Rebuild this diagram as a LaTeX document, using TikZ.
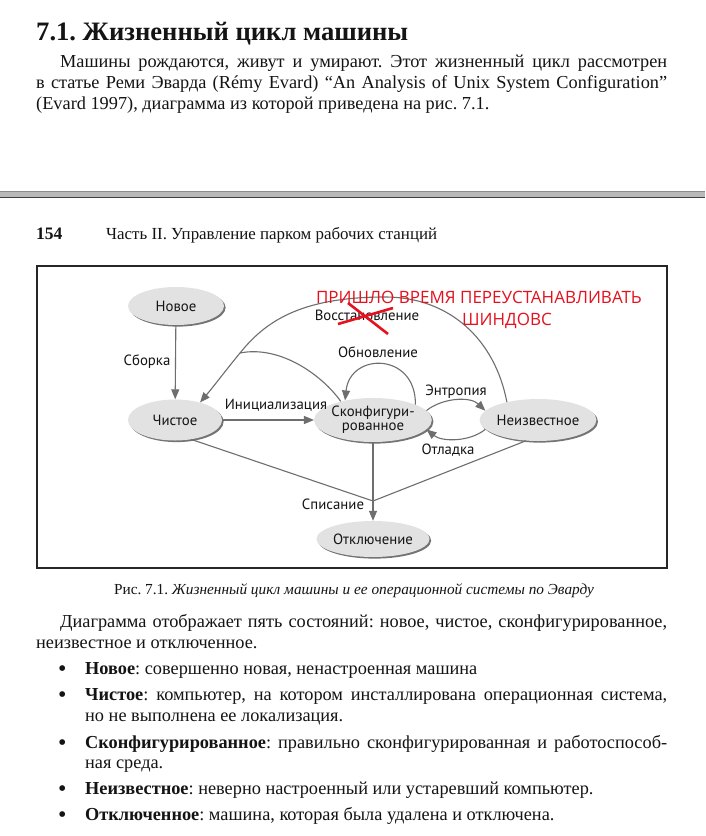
\documentclass[tikz,border=0pt]{standalone}
\usepackage{fontspec}
\setmainfont{Liberation Serif}
\newfontfamily\dsans{PT Sans}
\newfontfamily\rsans{Open Sans}
\usetikzlibrary{shapes.geometric,arrows.meta,shadows}
\definecolor{edge}{HTML}{6E6E6E}
\definecolor{nodefill}{HTML}{E2E2E2}
\definecolor{ink}{HTML}{141414}
\definecolor{redink}{HTML}{E3121E}
\begin{document}
\frenchspacing
\begin{tikzpicture}[x=1pt,y=-1pt,
  state/.style={ellipse, fill=nodefill, draw=none, inner sep=0pt, font=\dsans\fontsize{14.8}{14}\selectfont, text=ink,
    drop shadow={shadow xshift=1.6pt, shadow yshift=-1.6pt, fill=black!55, opacity=1}},
  arr/.style={draw=edge, line width=1.1pt, -{Triangle[length=10pt,width=8pt]}},
  ln/.style={draw=edge, line width=1.1pt},
  lbl/.style={font=\dsans\fontsize{14.8}{14}\selectfont, text=ink, inner sep=0pt},
  redtxt/.style={font=\rsans\fontsize{17}{18}\selectfont, text=redink, inner sep=0pt},
  body/.style={anchor=base west, inner sep=0pt, font=\fontsize{18.3}{20}\selectfont, text=ink},
  dot/.style={anchor=base west, inner sep=0pt, font=\fontsize{24}{20}\selectfont, text=ink},
]
\useasboundingbox (0,0) rectangle (705,836);
\fill[white] (0,0) rectangle (705,836);

% heading and first paragraph
\node[anchor=base west, inner sep=0pt, font=\bfseries\fontsize{26.6}{30}\selectfont, text=ink] (title) at (36,40) {7.1. Жизненный цикл машины};
\node[body] (p1) at (60,67) {\makebox[607pt][s]{Машины рождаются, живут и умирают. Этот жизненный цикл рассмотрен}};
\node[body] (p2) at (36,88) {\makebox[631pt][s]{в статье Реми Эварда (Rémy Evard) “An Analysis of Unix System Configuration”}};
\node[body] (p3) at (36,109) {(Evard 1997), диаграмма из которой приведена на рис.~7.1.};

% page break bar
\fill[gray!55] (0,191) rectangle (705,197.5);
\draw[black!45, line width=0.6pt] (0,191) -- (705,191);
\draw[black!75, line width=1.3pt] (0,197.5) -- (705,197.5);

% running head
\node[anchor=base west, inner sep=0pt, font=\bfseries\fontsize{17.5}{17}\selectfont, text=ink] (pg) at (36,239) {154};
\node[anchor=base west, inner sep=0pt, font=\fontsize{16.9}{17}\selectfont, text=ink] (hd) at (106,239) {Часть II. Управление парком рабочих станций};

% figure frame
\draw[line width=2pt, black!85] (36.5,266) rectangle (667,568);

% states
\node[state, minimum width=96pt, minimum height=38pt] (new) at (176,306) {Новое};
\node[state, minimum width=94pt, minimum height=41pt] (clean) at (175,420) {Чистое};
\node[state, minimum width=98pt, minimum height=44pt, align=center] (conf) at (373,420) {Сконфигури-\\рованное};
\node[state, minimum width=104pt, minimum height=42pt] (unk) at (538,420) {Неизвестное};
\node[state, minimum width=92pt, minimum height=36pt] (off) at (373,539) {Отключение};

\coordinate (apex) at (385,297);
\coordinate (jn) at (240,353);
\coordinate (mg) at (373,501);

% transitions
\draw[arr] (new) -- (clean);
\draw[arr] (clean) -- (conf);
\draw[arr] (unk.150) .. controls (495,340) and (450,297) .. (apex)
  .. controls (300,297) and (265,322) .. (jn)
  .. controls (226,370) and (214,386) .. (clean.35);
\draw[ln] (jn) .. controls (280,345) and (322,375) .. (conf.150);
\draw[arr] (conf.20) .. controls (416,352) and (350,352) .. (conf.145);
\draw[arr] (conf.10) .. controls (442,398) and (470,396) .. (unk.170);
\draw[arr] (unk.190) .. controls (470,442) and (442,442) .. (conf.350);
\draw[ln] (clean.-50) -- (mg);
\draw[ln] (unk.-120) -- (mg);
\draw[arr] (conf) -- (off);

% labels
\node[lbl] (l1) at (147,362) {Сборка};
\node[lbl] (l2) at (276,405) {Инициализация};
\node[lbl] (l3) at (378,352) {Обновление};
\node[lbl] (l4) at (456,392) {Энтропия};
\node[lbl] (l5) at (448,450) {Отладка};
\node[lbl] (l6) at (367,315) {Восстановление};
\node[lbl] (l7) at (333,504) {Списание};

% red annotation
\node[redtxt] (r1) at (479,297) {ПРИШЛО ВРЕМЯ ПЕРЕУСТАНАВЛИВАТЬ};
\node[redtxt] (r2) at (507,321) {ШИНДОВС};
\draw[redink, line width=2.6pt] (338,324) -- (393,308);
\draw[redink, line width=2.6pt] (348,303) -- (388,334);

% caption
\node[anchor=base, inner sep=0pt, font=\fontsize{15.3}{16}\selectfont, text=ink] (cap) at (354,594) {Рис. 7.1. \textit{Жизненный цикл машины и ее операционной системы по Эварду}};

% second paragraph
\node[body] (q1) at (60,627) {\makebox[607pt][s]{Диаграмма отображает пять состояний: новое, чистое, сконфигурированное,}};
\node[body] (q2) at (36,648) {неизвестное и отключенное.};

% bullet list
\node[dot] (d1) at (58,676) {\textbullet};
\node[body] (b1) at (85,674) {\textbf{Новое}: совершенно новая, ненастроенная машина};
\node[dot] (d2) at (58,702) {\textbullet};
\node[body] (b2) at (85,700) {\makebox[582pt][s]{\textbf{Чистое}: компьютер, на котором инсталлирована операционная система,}};
\node[body] (b2b) at (85,721) {но не выполнена ее локализация.};
\node[dot] (d3) at (58,750) {\textbullet};
\node[body] (b3) at (85,748) {\makebox[582pt][s]{\textbf{Сконфигурированное}: правильно сконфигурированная и работоспособ-}};
\node[body] (b3b) at (85,768) {ная среда.};
\node[dot] (d4) at (58,796) {\textbullet};
\node[body] (b4) at (85,794) {\textbf{Неизвестное}: неверно настроенный или устаревший компьютер.};
\node[dot] (d5) at (58,822) {\textbullet};
\node[body] (b5) at (85,820) {\textbf{Отключенное}: машина, которая была удалена и отключена.};
\end{tikzpicture}
\end{document}
